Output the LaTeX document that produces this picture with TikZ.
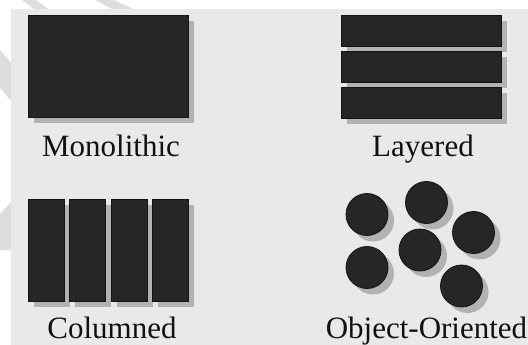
\documentclass[tikz,border=0pt]{standalone}
\usepackage{fontspec}
\setmainfont{Liberation Serif}
\newfontfamily\captionserif{Liberation Serif}
\usetikzlibrary{shadows}

\definecolor{panel}{HTML}{E9E9E9}
\definecolor{stripe}{HTML}{DDDDDD}
\definecolor{ink}{HTML}{262626}
\definecolor{edge}{HTML}{141414}
\definecolor{shade}{HTML}{B2B2B2}
\definecolor{labelink}{HTML}{111111}

\tikzset{
  solid shadow/.style={drop shadow={shadow xshift=6pt,shadow yshift=-6pt,fill=shade,opacity=1}},
  block/.style={rectangle,draw=edge,line width=0.8pt,fill=ink,inner sep=0pt,outer sep=0pt,
    anchor=north west,solid shadow},
  disc/.style={circle,draw=edge,line width=0.8pt,fill=ink,inner sep=0pt,outer sep=0pt,
    minimum size=42pt,solid shadow},
  caption/.style={anchor=base,inner sep=0pt,text=labelink,font=\captionserif\fontsize{31}{36}\selectfont},
}

\begin{document}
\begin{tikzpicture}[x=1pt,y=-1pt]
  \useasboundingbox (0,0) rectangle (528,345);

  % faint chevron stripes in the outer margin
  \fill[stripe] (22,0) -- (36,0) -- (52,12) -- (38,12) -- cycle;
  \fill[stripe] (95,0) -- (114,0) -- (140,12) -- (118,12) -- cycle;
  \fill[stripe] (0,50) -- (14,66) -- (14,104) -- (0,88) -- cycle;
  \fill[stripe] (0,214) -- (14,199) -- (14,250) -- (0,250) -- cycle;

  % backing panel
  \fill[panel] (11,9) rectangle (528,345);

  % Monolithic
  \node[block,minimum width=160pt,minimum height=102pt] (mono) at (28,15) {};
  \node[caption] (monolabel) at (111,157) {Monolithic};

  % Layered
  \node[block,minimum width=160pt,minimum height=31pt] (layer1) at (341,15) {};
  \node[block,minimum width=160pt,minimum height=31pt] (layer2) at (341,51) {};
  \node[block,minimum width=160pt,minimum height=31pt] (layer3) at (341,87) {};
  \node[caption] (layerlabel) at (423,157) {Layered};

  % Columned
  \node[block,minimum width=36pt,minimum height=102pt] (col1) at (28,199) {};
  \node[block,minimum width=36pt,minimum height=102pt] (col2) at (69,199) {};
  \node[block,minimum width=36pt,minimum height=102pt] (col3) at (111,199) {};
  \node[block,minimum width=36pt,minimum height=102pt] (col4) at (152,199) {};
  \node[caption] (collabel) at (112,338) {Columned};

  % Object-Oriented
  \node[disc] (obj1) at (367,214.5) {};
  \node[disc] (obj2) at (426.5,202.5) {};
  \node[disc] (obj3) at (473.5,232.5) {};
  \node[disc] (obj4) at (420,250) {};
  \node[disc] (obj5) at (367,267.5) {};
  \node[disc] (obj6) at (461.5,286) {};
  \node[caption] (objlabel) at (426.5,338) {Object-Oriented};
\end{tikzpicture}
\end{document}
